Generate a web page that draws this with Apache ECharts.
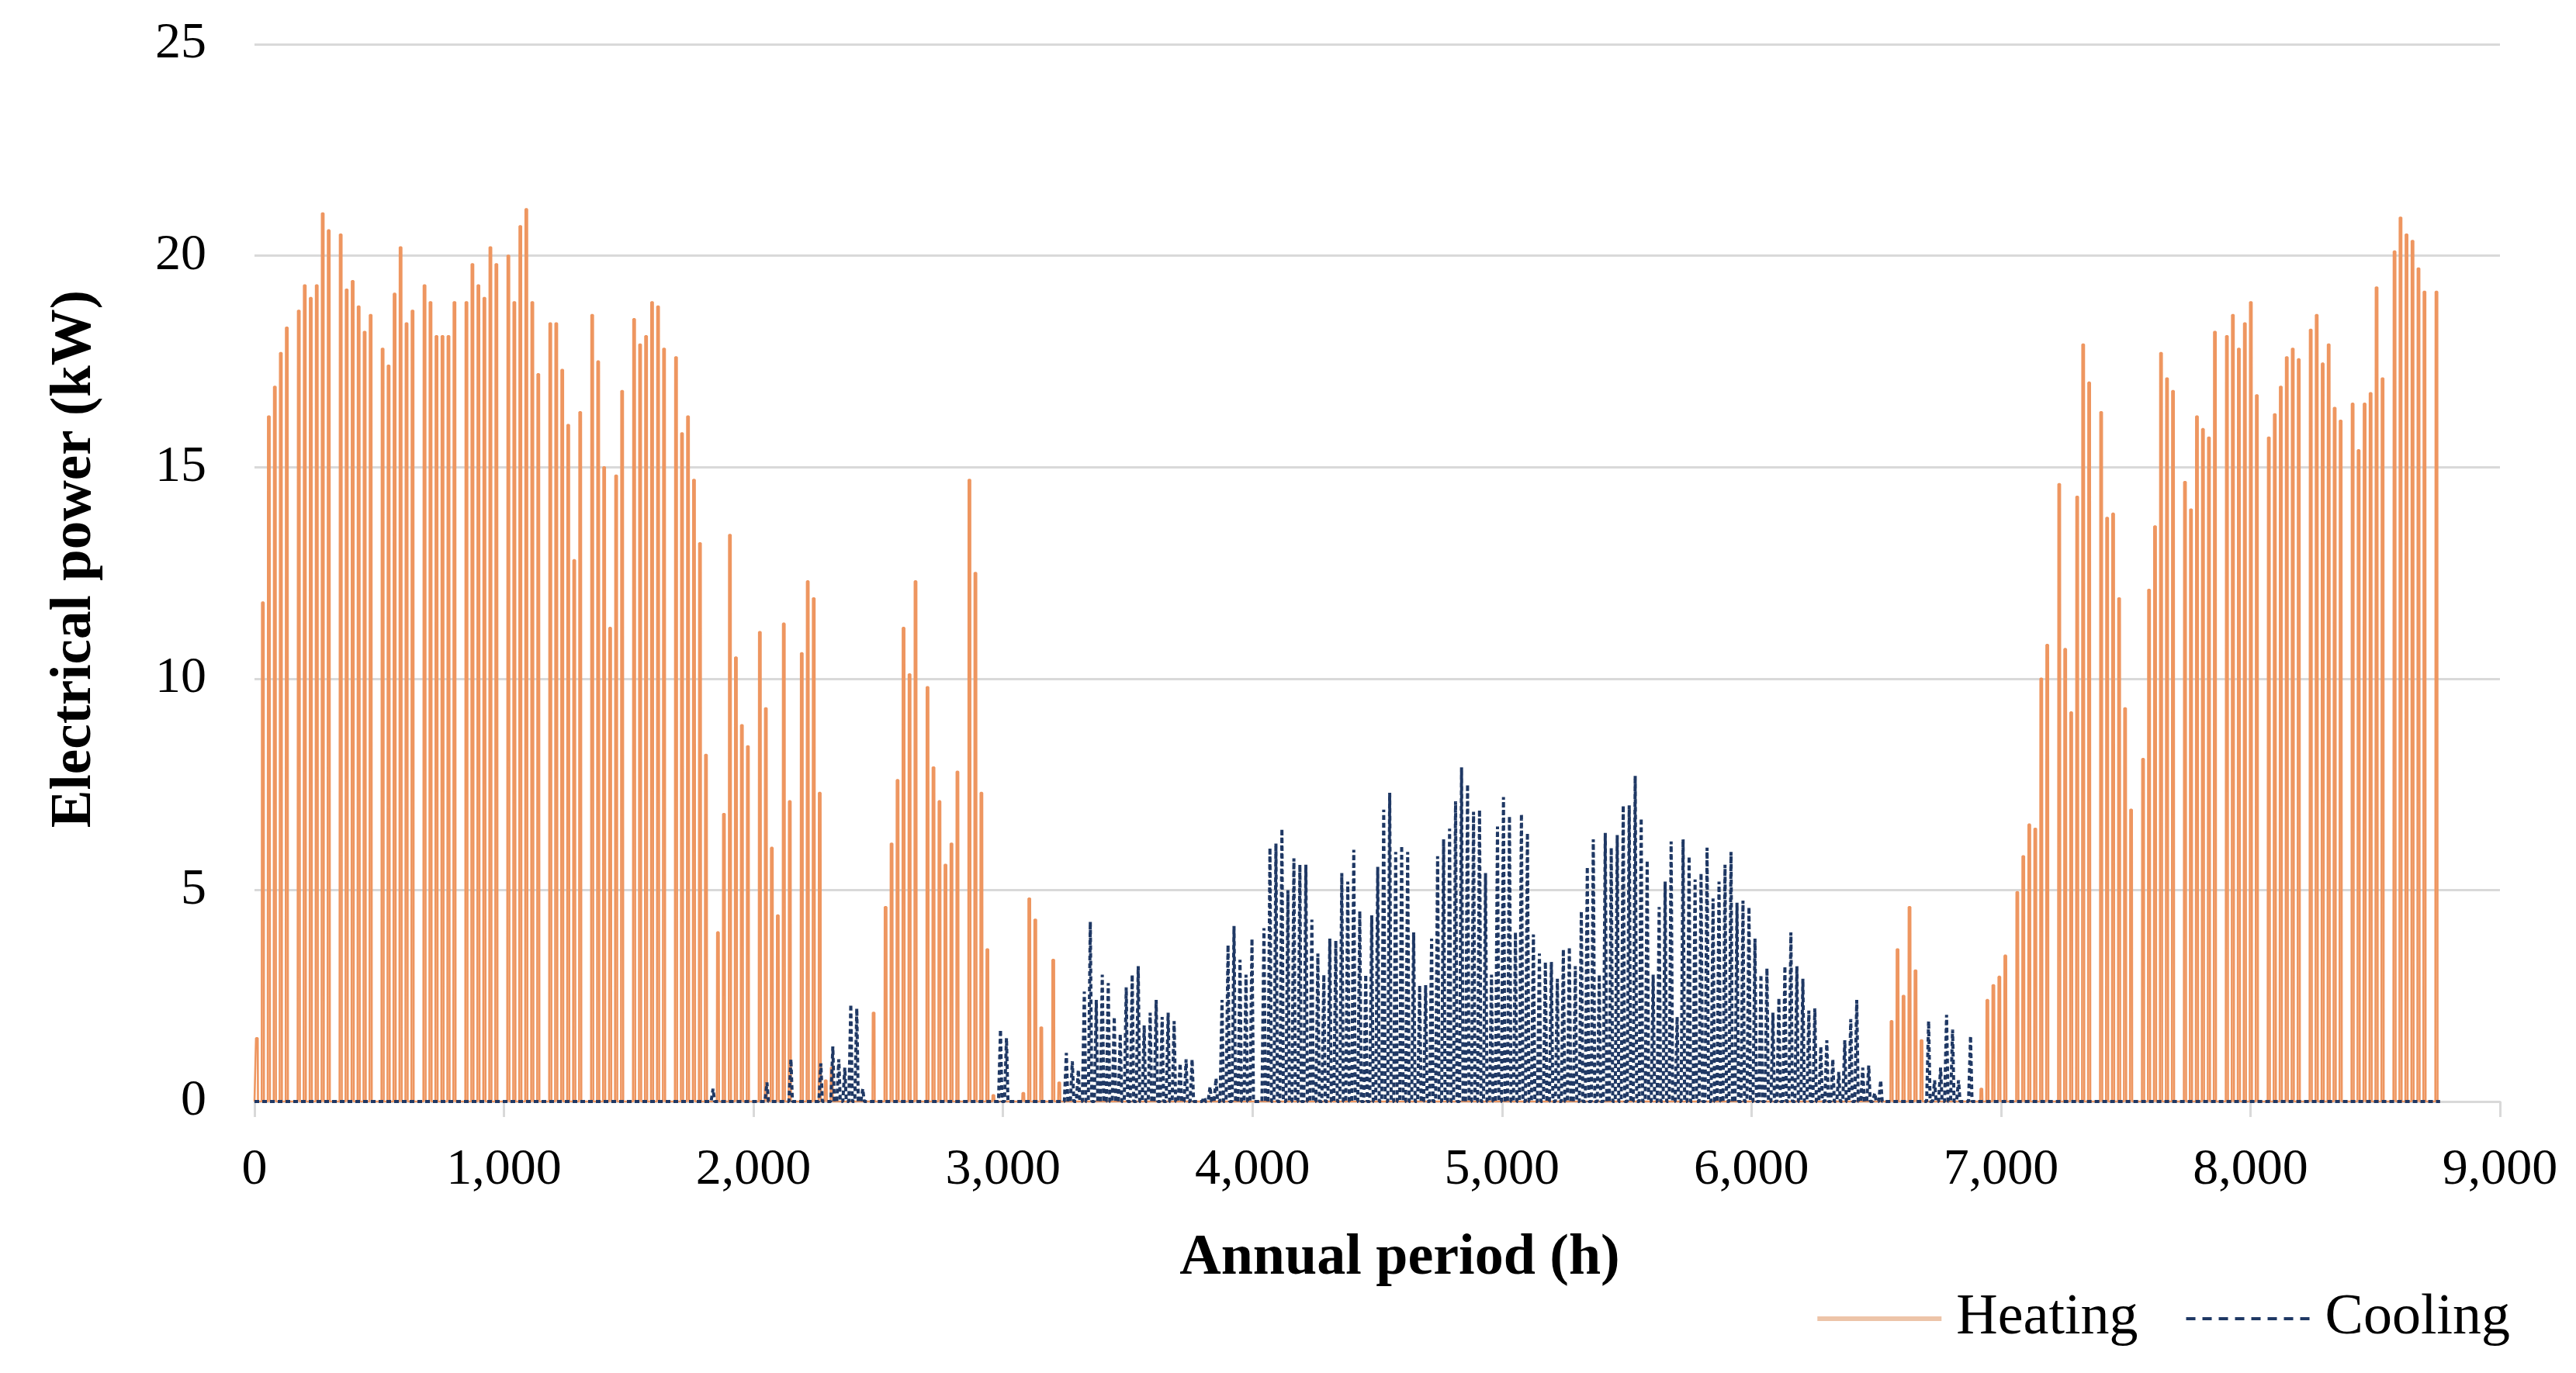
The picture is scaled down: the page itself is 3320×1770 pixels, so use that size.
<!DOCTYPE html>
<html><head><meta charset="utf-8">
<script src="https://cdn.jsdelivr.net/npm/echarts@6/dist/echarts.min.js"></script>
<style>html,body{margin:0;padding:0;background:#fff}#c{width:3320px;height:1770px}</style>
</head><body><div id="c"></div>
<script>
// ---- axis ticks ----
const xTicks = [0, 1000, 2000, 3000, 4000, 5000, 6000, 7000, 8000, 9000];
const yTicks = [0, 5, 10, 15, 20, 25];
const seriesNames = ['Heating', 'Cooling'];
const HOURS_IN_YEAR = 8760;
const DAYS_IN_YEAR = 365;

// ---- daily peak electrical power (kW), one value per day ----
// Heating, winter/spring: day 0 .. 139 (rows = weeks)
const heatingWinterStart = 0;
const heatingWinter = [
  1.5, 11.8, 16.2, 16.9, 17.7, 18.3, 0,
  18.7, 19.3, 19.0, 19.3, 21.0, 20.6, 0,
  20.5, 19.2, 19.4, 18.8, 18.2, 18.6, 0,
  17.8, 17.4, 19.1, 20.2, 18.4, 18.7, 0,
  19.3, 18.9, 18.1, 18.1, 18.1, 18.9, 0,
  18.9, 19.8, 19.3, 19.0, 20.2, 19.8, 0,
  20.0, 18.9, 20.7, 21.1, 18.9, 17.2, 0,
  18.4, 18.4, 17.3, 16.0, 12.8, 16.3, 0,
  18.6, 17.5, 15.0, 11.2, 14.8, 16.8, 0,
  18.5, 17.9, 18.1, 18.9, 18.8, 17.8, 0,
  17.6, 15.8, 16.2, 14.7, 13.2, 8.2, 0,
  4.0, 6.8, 13.4, 10.5, 8.9, 8.4, 0,
  11.1, 9.3, 6.0, 4.4, 11.3, 7.1, 0,
  10.6, 12.3, 11.9, 7.3, 0.5, 0.8, 0,
  0, 0, 0, 0, 0, 2.1, 0,
  4.6, 6.1, 7.6, 11.2, 10.1, 12.3, 0,
  9.8, 7.9, 7.1, 5.6, 6.1, 7.8, 0,
  14.7, 12.5, 7.3, 3.6, 0.15, 0, 0,
  0, 0, 0.2, 4.8, 4.3, 1.75, 0,
  3.35, 0.45, 0, 0, 0, 0, 0
];
// Heating, autumn/winter: day 273 .. 364
const heatingAutumnStart = 273;
const heatingAutumn = [
  1.9, 3.6, 2.5, 4.6, 3.1, 1.45, 0,
  0, 0, 0, 0, 0, 0, 0,
  0, 0.3, 2.4, 2.75, 2.95, 3.45, 0,
  4.95, 5.8, 6.55, 6.45, 10.0, 10.8, 0,
  14.6, 10.7, 9.2, 14.3, 17.9, 17.0, 0,
  16.3, 13.8, 13.9, 11.9, 9.3, 6.9, 0,
  8.1, 12.1, 13.6, 17.7, 17.1, 16.8, 0,
  14.65, 14.0, 16.2, 15.9, 15.7, 18.2, 0,
  18.1, 18.6, 17.8, 18.4, 18.9, 16.7, 0,
  15.7, 16.25, 16.9, 17.6, 17.8, 17.55, 0,
  18.25, 18.6, 17.45, 17.9, 16.4, 16.1, 0,
  16.5, 15.4, 16.5, 16.75, 19.25, 17.1, 0,
  20.1, 20.9, 20.5, 20.35, 19.7, 19.15, 0,
  19.15
];
// Cooling: day 70 .. 286
const coolingStart = 70;
const cooling = [
  0, 0, 0, 0, 0, 0, 0.3,
  0, 0, 0, 0, 0, 0, 0,
  0, 0.45, 0, 0, 0, 1.0, 0,
  0, 0, 0, 0.9, 0, 1.3, 1.0,
  0.8, 2.3, 2.2, 0.3, 0, 0, 0,
  0, 0, 0, 0, 0, 0, 0,
  0, 0, 0, 0, 0, 0, 0,
  0, 0, 0, 0, 0, 1.7, 1.5,
  0, 0, 0, 0, 0, 0, 0,
  0, 0, 1.15, 0.95, 0.75, 2.6, 4.25,
  2.4, 3.0, 2.8, 2.0, 1.6, 2.7, 3.0,
  3.2, 1.8, 2.1, 2.4, 2.0, 2.1, 1.9,
  0.9, 1.0, 1.0, 0, 0.1, 0.35, 0.55,
  2.4, 3.7, 4.15, 3.35, 3.0, 3.85, 0,
  4.1, 6.0, 6.1, 6.45, 5.0, 5.75, 5.6,
  5.6, 4.3, 3.5, 3.0, 3.85, 3.8, 5.4,
  5.2, 5.95, 4.5, 3.0, 4.4, 5.55, 6.9,
  7.3, 5.9, 6.05, 5.9, 4.0, 2.75, 2.75,
  3.85, 5.8, 6.2, 6.45, 7.1, 7.9, 7.5,
  6.85, 6.9, 5.4, 3.0, 6.5, 7.2, 6.75,
  4.0, 6.8, 6.35, 3.95, 3.5, 3.3, 3.3,
  2.9, 3.6, 3.65, 3.2, 4.5, 5.55, 6.2,
  3.0, 6.35, 6.0, 6.3, 7.0, 7.0, 7.7,
  6.7, 5.7, 3.0, 4.6, 5.2, 6.15, 2.0,
  6.2, 5.8, 5.25, 5.4, 6.0, 4.8, 5.2,
  5.6, 5.9, 4.7, 4.75, 4.6, 3.85, 3.0,
  3.15, 2.1, 2.45, 3.2, 4.0, 3.2, 2.9,
  2.15, 2.2, 1.3, 1.45, 1.0, 0.7, 1.45,
  1.95, 2.4, 0.8, 0.85, 0.2, 0.5, 0,
  0, 0, 0, 0, 0, 0, 1.9,
  0.5, 0.8, 2.05, 1.7, 0.5, 0, 1.55
];

// hours of the day where each unit switches on / reaches its peak / switches off
const heatingHours = { on: 5, peakStart: 6, peakEnd: 13, off: 14 };
const coolingHours = { on: 6, peak: 14, off: 20 };

function peakOf(day, segments) {
  for (const s of segments) {
    const i = day - s.start;
    if (i >= 0 && i < s.values.length) return s.values[i];
  }
  return 0;
}

function heatingSeries() {
  const segs = [{ start: heatingWinterStart, values: heatingWinter }, { start: heatingAutumnStart, values: heatingAutumn }];
  const pts = [[0, 0]];
  for (let d = 0; d < DAYS_IN_YEAR; d++) {
    const p = peakOf(d, segs), h = d * 24;
    pts.push([h + heatingHours.on, 0], [h + heatingHours.peakStart, p], [h + heatingHours.peakEnd, p], [h + heatingHours.off, 0]);
  }
  pts.push([HOURS_IN_YEAR, 0]);
  return pts;
}
function coolingSeries() {
  const segs = [{ start: coolingStart, values: cooling }];
  const pts = [[0, 0]];
  for (let d = 0; d < DAYS_IN_YEAR; d++) {
    const p = peakOf(d, segs), h = d * 24;
    pts.push([h + coolingHours.on, 0], [h + coolingHours.peak, p], [h + coolingHours.off, 0]);
  }
  pts.push([HOURS_IN_YEAR, 0]);
  return pts;
}

const serif = 'Liberation Serif, Times New Roman, serif';
const chart = echarts.init(document.getElementById('c'), null, { renderer: 'canvas' });
chart.setOption({
  animation: false,
  backgroundColor: '#ffffff',
  grid: { left: 328, right: 98, top: 57, bottom: 350, containLabel: false },
  legend: {
    right: 80, top: 1658, orient: 'horizontal',
    itemWidth: 160, itemHeight: 30, itemGap: 60,
    textStyle: { fontFamily: serif, fontSize: 74, color: '#000', padding: [0, 0, 0, 14] },
    data: [
      { name: seriesNames[0], itemStyle: { opacity: 0 }, lineStyle: { color: '#EDC4A8', width: 6 } },
      { name: seriesNames[1], itemStyle: { opacity: 0 }, lineStyle: { color: '#1F3864', width: 4, type: [12, 9] } }
    ]
  },
  xAxis: {
    type: 'value', min: xTicks[0], max: xTicks[xTicks.length - 1], interval: xTicks[1] - xTicks[0],
    name: 'Annual period (h)', nameLocation: 'middle', nameGap: 166,
    nameTextStyle: { fontFamily: serif, fontWeight: 'bold', fontSize: 74, color: '#000', padding: [0, 0, 0, 58] },
    axisLine: { show: true, onZero: true, lineStyle: { color: '#D9D9D9', width: 3 } },
    axisTick: { show: true, length: 20, lineStyle: { color: '#D9D9D9', width: 3 } },
    splitLine: { show: false },
    axisLabel: {
      margin: 56, fontFamily: serif, fontSize: 66, color: '#000',
      formatter: v => String(v).replace(/\B(?=(\d{3})+(?!\d))/g, ',')
    }
  },
  yAxis: {
    type: 'value', min: yTicks[0], max: yTicks[yTicks.length - 1], interval: yTicks[1] - yTicks[0],
    name: 'Electrical power (kW)', nameLocation: 'middle', nameGap: 194, nameRotate: 90,
    nameTextStyle: { fontFamily: serif, fontWeight: 'bold', fontSize: 73, color: '#000', padding: [0, 0, 0, 36] },
    axisLine: { show: false }, axisTick: { show: false },
    splitLine: { show: true, lineStyle: { color: '#D9D9D9', width: 3 } },
    axisLabel: { margin: 62, fontFamily: serif, fontSize: 66, color: '#000' }
  },
  series: [
    {
      name: seriesNames[0], type: 'line', data: heatingSeries(), symbol: 'none', showSymbol: false, sampling: false,
      lineStyle: { color: '#EE9660', width: 2.6 }, itemStyle: { color: '#EE9660' }
    },
    {
      name: seriesNames[1], type: 'line', data: coolingSeries(), symbol: 'none', showSymbol: false, sampling: false,
      lineStyle: { color: '#1F3864', width: 4, type: [6, 4] }, itemStyle: { color: '#1F3864' }
    }
  ]
});
</script></body></html>
